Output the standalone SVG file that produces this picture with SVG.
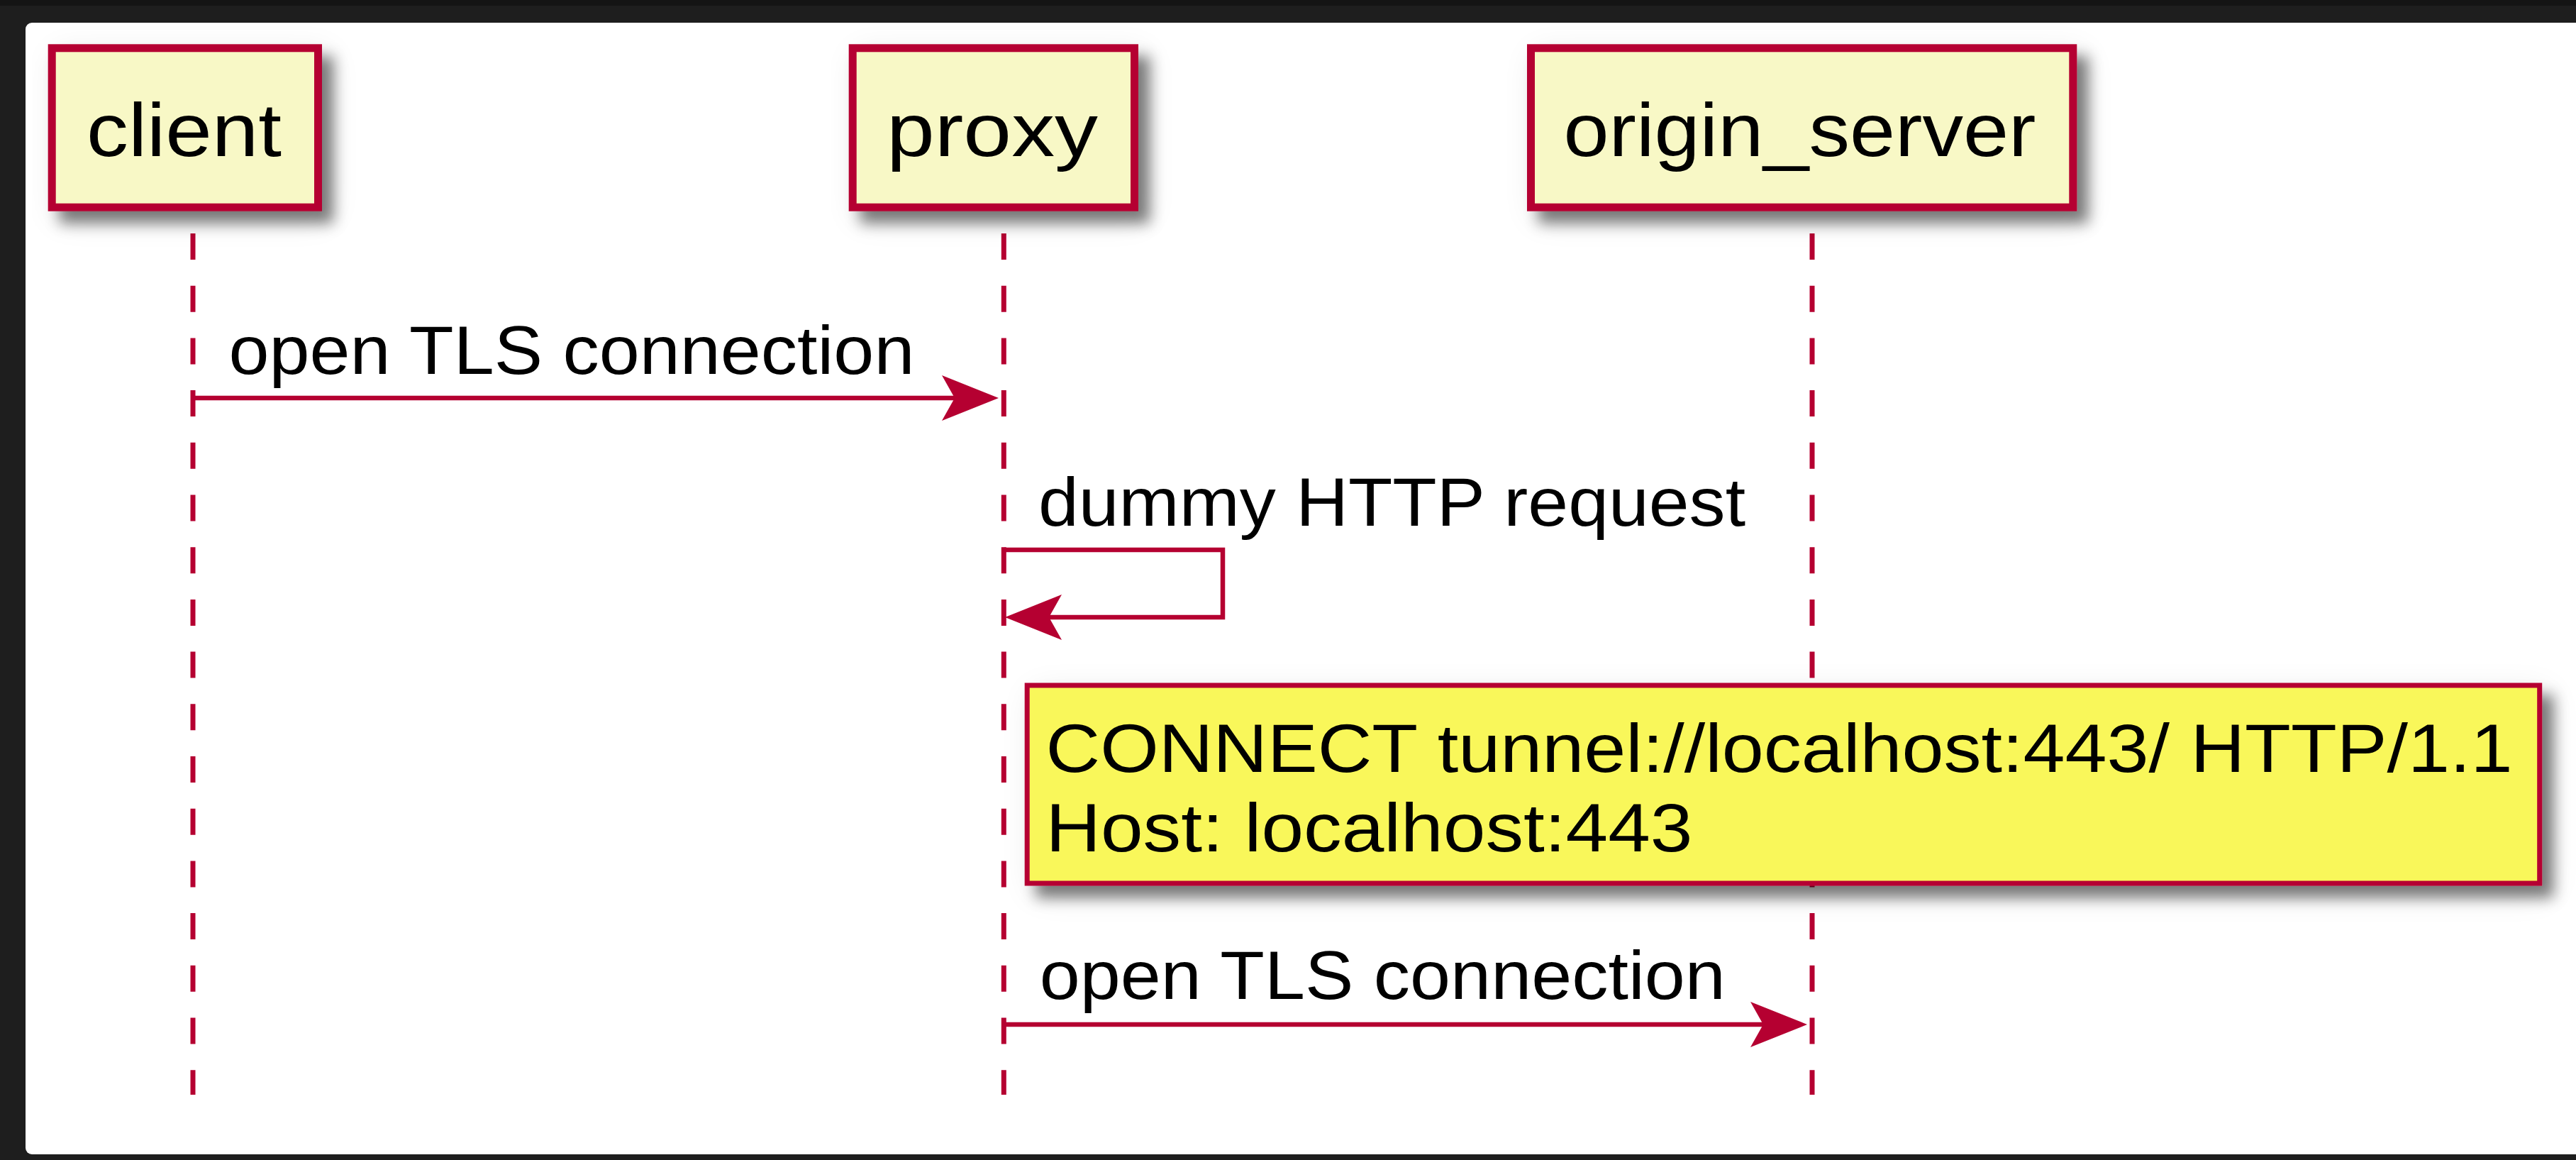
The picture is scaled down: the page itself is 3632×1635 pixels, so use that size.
<svg xmlns="http://www.w3.org/2000/svg" xmlns:xlink="http://www.w3.org/1999/xlink" width="3632" height="1635" viewBox="0 0 3632 1635">
  <style>
    .participant rect { fill: #f8f8c6; stroke: #b50031; stroke-width: 11; }
    .participant text { font-family: "Liberation Sans", Arial, Helvetica, sans-serif; font-size: 106px; fill: #000; }
    .lifeline { stroke: #b50031; stroke-width: 7; stroke-dasharray: 37 36.7; fill: none; }
    .msg { stroke: #b50031; stroke-width: 6.5; fill: none; }
    .head { fill: #b50031; }
    .label { font-family: "Liberation Sans", Arial, Helvetica, sans-serif; font-size: 96px; fill: #000; }
    .note rect { fill: #f9f75a; stroke: #b50031; stroke-width: 7; }
  </style>
  <defs>
    <filter id="shadow" x="-10%" y="-20%" width="130%" height="170%">
      <feGaussianBlur in="SourceAlpha" stdDeviation="24" result="wide"/>
      <feOffset in="wide" dx="10" dy="12" result="wideOff"/>
      <feComponentTransfer in="wideOff" result="halo">
        <feFuncA type="linear" slope="0.09"/>
      </feComponentTransfer>
      <feGaussianBlur in="SourceAlpha" stdDeviation="10" result="blur"/>
      <feOffset in="blur" dx="16" dy="17" result="off"/>
      <feComponentTransfer in="off" result="drop">
        <feFuncA type="linear" slope="0.5"/>
      </feComponentTransfer>
      <feMerge>
        <feMergeNode in="halo"/>
        <feMergeNode in="drop"/>
        <feMergeNode in="SourceGraphic"/>
      </feMerge>
    </filter>
    <!-- open-notched arrowhead, tip at the origin, pointing right -->
    <path id="arrowhead" class="head" d="M0,0 L-80,-32 L-62,0 L-80,32 Z"/>
  </defs>

  <!-- window background and page -->
  <rect x="0" y="0" width="3632" height="1635" fill="#1e1e1e"/>
  <rect x="0" y="0" width="3632" height="8" fill="#141414"/>
  <rect x="36" y="32" width="3620" height="1595" rx="9" fill="#ffffff"/>

  <!-- lifelines -->
  <g id="lifelines">
    <line class="lifeline" x1="272" y1="329" x2="272" y2="1543"/>
    <line class="lifeline" x1="1415.3" y1="329" x2="1415.3" y2="1543"/>
    <line class="lifeline" x1="2555" y1="329" x2="2555" y2="1543"/>
  </g>

  <!-- participants -->
  <g id="client" class="participant">
    <rect x="73.2" y="67.8" width="375.3" height="224.4" filter="url(#shadow)"/>
    <text x="122" y="220" textLength="275" lengthAdjust="spacingAndGlyphs">client</text>
  </g>
  <g id="proxy" class="participant">
    <rect x="1202.2" y="67.8" width="397.3" height="224.4" filter="url(#shadow)"/>
    <text x="1250" y="220" textLength="298" lengthAdjust="spacingAndGlyphs">proxy</text>
  </g>
  <g id="origin_server" class="participant">
    <rect x="2158.5" y="67.8" width="764.3" height="224.4" filter="url(#shadow)"/>
    <text x="2204.5" y="220" textLength="666" lengthAdjust="spacingAndGlyphs">origin_server</text>
  </g>

  <!-- messages -->
  <g id="connectors">
    <g id="msg-client-proxy">
      <line class="msg" x1="272" y1="561" x2="1390" y2="561"/>
      <use xlink:href="#arrowhead" transform="translate(1408,561)"/>
      <text class="label" x="322.4" y="526.5" textLength="967" lengthAdjust="spacingAndGlyphs">open TLS connection</text>
    </g>
    <g id="msg-proxy-self">
      <polyline class="msg" points="1415.3,775 1724,775 1724,870 1435,870"/>
      <use xlink:href="#arrowhead" transform="translate(1417,870) rotate(180)"/>
      <text class="label" x="1464" y="740.7" textLength="997" lengthAdjust="spacingAndGlyphs">dummy HTTP request</text>
    </g>
    <g id="msg-proxy-origin">
      <line class="msg" x1="1415.3" y1="1444" x2="2530" y2="1444"/>
      <use xlink:href="#arrowhead" transform="translate(2548,1444)"/>
      <text class="label" x="1465.7" y="1408.3" textLength="967" lengthAdjust="spacingAndGlyphs">open TLS connection</text>
    </g>
  </g>

  <!-- note on proxy -->
  <g id="note-connect" class="note">
    <rect x="1448.2" y="966" width="2132.5" height="279" filter="url(#shadow)"/>
    <text class="label" x="1474.5" y="1087.7" textLength="2068" lengthAdjust="spacingAndGlyphs">CONNECT tunnel://localhost:443/ HTTP/1.1</text>
    <text class="label" x="1474.5" y="1200" textLength="912" lengthAdjust="spacingAndGlyphs">Host: localhost:443</text>
  </g>
</svg>
